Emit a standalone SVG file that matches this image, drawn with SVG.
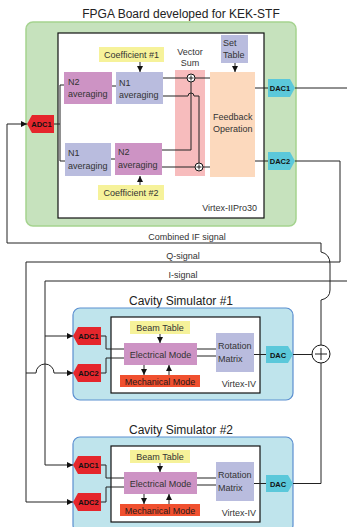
<svg xmlns="http://www.w3.org/2000/svg" width="347" height="527" viewBox="0 0 347 527">
<defs>
<style>
text{font-family:"Liberation Sans",Arial,sans-serif;fill:#333;}
.t12{font-size:12px;fill:#222;}
.t9{font-size:9px;}
.io{font-size:7.5px;font-weight:bold;fill:#111;text-anchor:middle;}
.c{text-anchor:middle;}
.e{text-anchor:end;}
.board{fill:#c6e2bd;stroke:#a5d38f;stroke-width:1.5;}
.cav{fill:#bfe4ec;stroke:#5b8fd0;stroke-width:1.2;}
.inner{fill:#fff;stroke:#111;stroke-width:1.2;}
.pur{fill:#cd93c4;}
.lav{fill:#b9bcde;}
.yel{fill:#f6f29a;}
.pink{fill:#f7bcbd;}
.peach{fill:#fcd9bd;}
.adc{fill:#e5262c;}
.dac{fill:#5bc8da;}
.mech{fill:#f0502f;}
.ln{fill:none;stroke:#222;stroke-width:1;}
.sum{fill:#fff;stroke:#111;stroke-width:1;}
</style>
<marker id="ar" viewBox="0 0 6 6" refX="6" refY="3" markerWidth="6" markerHeight="6" markerUnits="userSpaceOnUse" orient="auto">
<path d="M0,0 L6,3 L0,6 z" fill="#111"/>
</marker>
</defs>

<!-- FPGA board -->
<g id="fpga-board">
<text class="t12 c" x="181" y="18">FPGA Board developed for KEK-STF</text>
<rect class="board" x="26" y="22" width="270" height="204" rx="7"/>
<rect class="inner" x="58" y="33" width="206" height="185"/>
<text class="t9 e" x="257" y="211">Virtex-IIPro30</text>
</g>
<g id="coef1"><rect class="yel" x="99" y="47" width="65" height="15"/><text class="t9 c" x="131.5" y="58">Coefficient #1</text></g>
<g id="n2avg-top"><rect class="pur" x="64" y="72" width="48" height="32"/><text class="t9" x="68" y="85">N2</text><text class="t9" x="68" y="97">averaging</text></g>
<g id="n1avg-top"><rect class="lav" x="116" y="72" width="47" height="32"/><text class="t9" x="119" y="86">N1</text><text class="t9" x="119" y="98">averaging</text></g>
<g id="vector-sum"><rect class="pink" x="175" y="70" width="30" height="106"/><text class="t9 c" x="190" y="55">Vector</text><text class="t9 c" x="190" y="66">Sum</text></g>
<g id="set-table"><rect class="lav" x="221" y="35" width="27" height="28"/><text class="t9" x="223" y="46">Set</text><text class="t9" x="223" y="58">Table</text></g>
<g id="feedback"><rect class="peach" x="210" y="72" width="45" height="105"/><text class="t9" x="213" y="120">Feedback</text><text class="t9" x="213" y="132">Operation</text></g>
<g id="n1avg-bot"><rect class="lav" x="65" y="143" width="46" height="33"/><text class="t9" x="68" y="156">N1</text><text class="t9" x="68" y="169">averaging</text></g>
<g id="n2avg-bot"><rect class="pur" x="115" y="143" width="47" height="32"/><text class="t9" x="118" y="155">N2</text><text class="t9" x="118" y="168">averaging</text></g>
<g id="coef2"><rect class="yel" x="98" y="185" width="66" height="15"/><text class="t9 c" x="131" y="196">Coefficient #2</text></g>
<g id="adc1-fpga"><path class="adc" d="M27,124 L32,115 L54,115 L54,133 L32,133 Z"/><text class="io" x="41.5" y="127">ADC1</text></g>
<g id="dac1"><path class="dac" d="M268,79 L290,79 L295,88 L290,97 L268,97 Z"/><text class="io" x="280" y="91">DAC1</text></g>
<g id="dac2"><path class="dac" d="M268,152 L290,152 L295,161 L290,170 L268,170 Z"/><text class="io" x="280" y="164">DAC2</text></g>
<g id="sum-top"><circle class="sum" cx="191" cy="78" r="4"/><path class="ln" d="M188.5,78 H193.5 M191,75.5 V80.5"/></g>
<g id="sum-bot"><circle class="sum" cx="199" cy="167" r="4"/><path class="ln" d="M196.5,167 H201.5 M199,164.5 V169.5"/></g>

<!-- Cavity Simulator #1 -->
<g id="cavity-sim-1">
<text class="t12 c" x="181" y="305">Cavity Simulator #1</text>
<rect class="cav" x="73" y="308" width="220" height="92" rx="7"/>
<rect class="inner" x="111" y="317" width="149" height="76"/>
<text class="t9 e" x="256" y="387">Virtex-IV</text>
</g>
<g id="beam-table-1"><rect class="yel" x="130" y="321" width="60" height="13"/><text class="t9 c" x="160" y="331">Beam Table</text></g>
<g id="electrical-1"><rect class="pur" x="124" y="343" width="73" height="22"/><text class="t9 c" x="160.5" y="357.5">Electrical Mode</text></g>
<g id="mechanical-1"><rect class="mech" x="120" y="375" width="80" height="12"/><text class="t9 c" x="160" y="384.5" style="fill:#2a1a1a">Mechanical Mode</text></g>
<g id="rotation-1"><rect class="lav" x="216" y="333" width="38" height="39"/><text class="t9" x="218" y="349">Rotation</text><text class="t9" x="218" y="362">Matrix</text></g>
<g id="adc1-sim1"><path class="adc" d="M73,336 L78,327 L101,327 L101,345 L78,345 Z"/><text class="io" x="88.5" y="339">ADC1</text></g>
<g id="adc2-sim1"><path class="adc" d="M73,373 L78,364 L101,364 L101,382 L78,382 Z"/><text class="io" x="88.5" y="376">ADC2</text></g>
<g id="dac-sim1"><path class="dac" d="M266,346 L288,346 L293,354.5 L288,363 L266,363 Z"/><text class="io" x="278" y="357.5">DAC</text></g>

<!-- Cavity Simulator #2 -->
<g id="cavity-sim-2">
<text class="t12 c" x="181" y="434">Cavity Simulator #2</text>
<rect class="cav" x="73" y="437" width="220" height="95" rx="7"/>
<rect class="inner" x="111" y="446" width="149" height="76"/>
<text class="t9 e" x="256" y="516">Virtex-IV</text>
</g>
<g id="beam-table-2"><rect class="yel" x="130" y="450" width="60" height="13"/><text class="t9 c" x="160" y="460">Beam Table</text></g>
<g id="electrical-2"><rect class="pur" x="124" y="472" width="73" height="22"/><text class="t9 c" x="160.5" y="486.5">Electrical Mode</text></g>
<g id="mechanical-2"><rect class="mech" x="120" y="504" width="80" height="12"/><text class="t9 c" x="160" y="513.5" style="fill:#2a1a1a">Mechanical Mode</text></g>
<g id="rotation-2"><rect class="lav" x="216" y="462" width="38" height="39"/><text class="t9" x="218" y="478">Rotation</text><text class="t9" x="218" y="491">Matrix</text></g>
<g id="adc1-sim2"><path class="adc" d="M73,465 L78,456 L101,456 L101,474 L78,474 Z"/><text class="io" x="88.5" y="468">ADC1</text></g>
<g id="adc2-sim2"><path class="adc" d="M73,502 L78,493 L101,493 L101,511 L78,511 Z"/><text class="io" x="88.5" y="505">ADC2</text></g>
<g id="dac-sim2"><path class="dac" d="M266,475 L288,475 L293,483.5 L288,492 L266,492 Z"/><text class="io" x="278" y="486.5">DAC</text></g>

<g id="sum-ext"><circle class="sum" cx="321" cy="354" r="9"/><path class="ln" d="M315,354 H327 M321,348 V360"/></g>

<!-- connectors -->
<g id="connectors">
<!-- FPGA internals -->
<path class="ln" d="M54,124 H60 M60,85 V161 M60,85 H64 M60,161 H65"/>
<path class="ln" d="M112,86 H116"/>
<path class="ln" d="M111,159 H115"/>
<path class="ln" marker-end="url(#ar)" d="M140,62 V72"/>
<path class="ln" marker-end="url(#ar)" d="M235,63 V72"/>
<path class="ln" marker-end="url(#ar)" d="M140,185 V176"/>
<path class="ln" d="M163,78 H187 M195,78 H210"/>
<path class="ln" d="M191,82 V150 H162"/>
<path class="ln" d="M163,96 H188 A3,3 0 0 1 194,96 H199 V163"/>
<path class="ln" d="M162,167 H195 M203,167 H210"/>
<path class="ln" d="M255,88 H268"/>
<path class="ln" d="M255,161 H268"/>
<!-- external signals -->
<path class="ln" d="M295,88 H347"/>
<path class="ln" marker-end="url(#ar)" d="M321,345 V300 Q330,298 330,290 V264 Q330,254 321,252 V243 H7 V124 H27"/>
<text class="t9 c" x="187" y="240">Combined IF signal</text>
<path class="ln" marker-end="url(#ar)" d="M295,161 H340 V262 H26 V502 H73"/>
<text class="t9 c" x="183" y="259">Q-signal</text>
<path class="ln" marker-end="url(#ar)" d="M26,373 H36 A9,9 0 0 1 54,373 H73"/>
<path class="ln" marker-end="url(#ar)" d="M347,281 H45 V465 H73"/>
<text class="t9 c" x="183" y="278">I-signal</text>
<path class="ln" marker-end="url(#ar)" d="M45,336 H73"/>
<path class="ln" d="M293,354.5 H312"/>
<path class="ln" d="M293,483.5 H321 V363"/>
<!-- sim 1 internals -->
<path class="ln" d="M101,336 H106 V349 H124 M101,373 H106 V358 H124"/>
<path class="ln" d="M197,349 H216 M197,356 H216 M254,354.5 H266"/>
<path class="ln" marker-end="url(#ar)" d="M160,334 V343"/>
<path class="ln" marker-end="url(#ar)" d="M144,365 V375"/>
<path class="ln" marker-end="url(#ar)" d="M169,375 V365"/>
<!-- sim 2 internals -->
<path class="ln" d="M101,465 H106 V478 H124 M101,502 H106 V487 H124"/>
<path class="ln" d="M197,478 H216 M197,485 H216 M254,483.5 H266"/>
<path class="ln" marker-end="url(#ar)" d="M160,463 V472"/>
<path class="ln" marker-end="url(#ar)" d="M144,494 V504"/>
<path class="ln" marker-end="url(#ar)" d="M169,504 V494"/>
</g>
</svg>
